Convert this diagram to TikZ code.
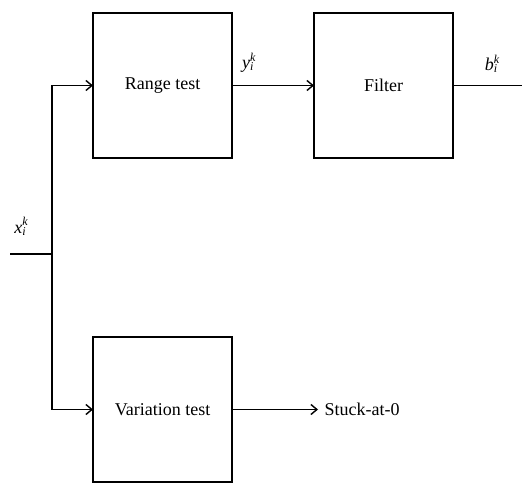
\documentclass[tikz,border=0pt]{standalone}
\usepackage{fontspec}
\setmainfont{Liberation Serif}
\usetikzlibrary{positioning,arrows.meta}

\newcommand{\sig}[1]{\textit{#1}\rlap{\textsuperscript{\textit{k}}}\textsubscript{\textit{i}}}

\begin{document}
\begin{tikzpicture}[
    x=0.5pt, y=-0.5pt, font=\fontsize{9}{11}\selectfont,
    >={Straight Barb[length=3pt,width=5pt]}, line width=0.7pt,
    blk/.style={draw, line width=1pt, minimum width=69.5pt, minimum height=72.5pt, inner sep=0pt, outer sep=0pt},
    lbl/.style={inner sep=2pt}]
  \useasboundingbox (0,0) rectangle (522,485);
  \node[blk] (range) at (162.5,85.5) {Range test};
  \node[blk, right=41pt of range] (filter) {Filter};
  \node[blk, below=89.5pt of range] (var) {Variation test};
  \node[right=43pt of var, inner sep=3pt] (stuck) {Stuck-at-0};
  \coordinate (in) at (10,254);
  \coordinate (jn) at (52,254);
  \coordinate[right=35pt of filter.east] (out);
  \draw (in) -- node[pos=0.25, above=7pt, lbl] {\sig{x}} (jn);
  \draw[->] (jn) |- (range.west);
  \draw[->] (jn) |- (var.west);
  \draw[->] (range.east) -- node[pos=0.2, above=4pt, lbl] {\sig{y}} (filter.west);
  \draw (filter.east) -- node[pos=0.55, above=4pt, lbl] {\sig{b}} (out);
  \draw[->] (var.east) -- (stuck.west);
\end{tikzpicture}
\end{document}
